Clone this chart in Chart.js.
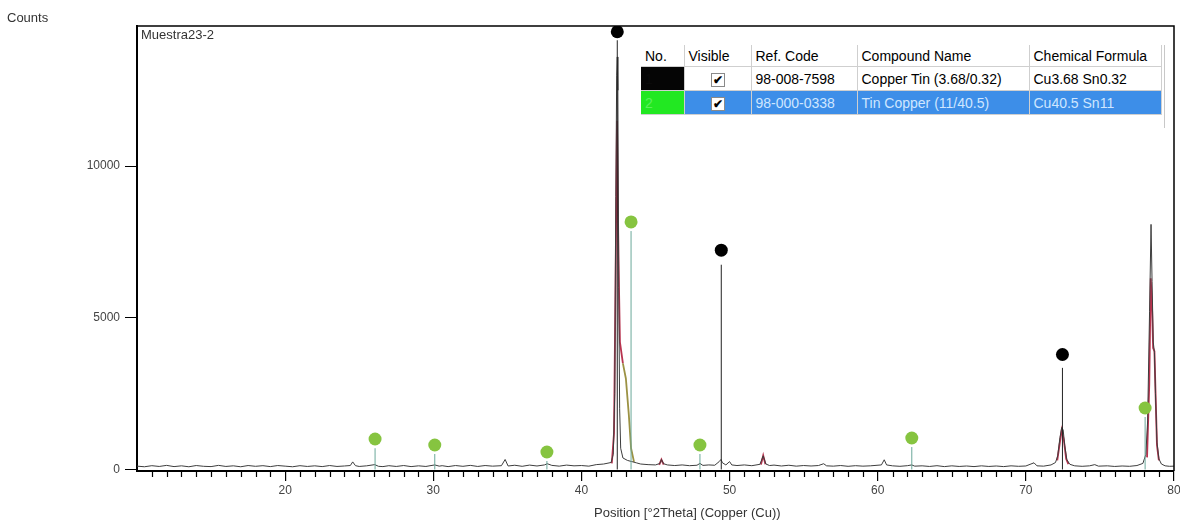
<!DOCTYPE html>
<html>
<head>
<meta charset="utf-8">
<script src="https://cdn.jsdelivr.net/npm/chart.js@4.4.1/dist/chart.umd.min.js"></script>
<style>
  body { margin: 0; background: #fff; overflow: hidden; font-family: "Liberation Sans", Arial, sans-serif; }
  #wrap { position: relative; width: 1180px; height: 527px; overflow: hidden; }
  #panel { position: absolute; left: 641px; top: 45px; width: 523px; height: 83px;
           border-right: 1px solid #c8c8c8; background: #fff; }
  #phases { position: absolute; left: 641px; top: 45px; border-collapse: collapse;
            font-size: 14px; color: #000; table-layout: fixed; }
  #phases td { padding: 0 0 0 4px; white-space: nowrap; overflow: hidden;
               border-right: 1px solid #cfcfcf; border-bottom: 1px solid #cfcfcf; }
  #phases tr.head td { height: 21px; }
  #phases tr.row td { height: 23px; }
  #phases tr.sel td { background: #3d8ee8; color: #cfe6ff; }
  #phases tr td.swatch { color: #0a0a0a; }
  #phases tr.sel td.swatch { color: #5cf05c; }
  #phases td.vis { text-align: center; padding: 0; }
  .box { display: inline-block; width: 12px; height: 12px; border: 1px solid #8a8a8a; background: #fff;
         font-size: 12px; font-weight: bold; line-height: 12px; color: #000; text-align: center; vertical-align: middle; }
</style>
</head>
<body>
<div id="wrap">
  <canvas id="xrd" width="1190" height="527"></canvas>
  <div id="panel"></div>
  <table id="phases"></table>
</div>
<script>
// axis ticks
const xTicks = [20, 30, 40, 50, 60, 70, 80];
const yTicks = [0, 5000, 10000];

// measured scan: position [°2Theta] and counts
const scanPos = [
  10.0, 10.5, 11.0, 11.5, 12.0, 12.5, 13.0, 13.5, 14.0, 14.5, 15.0, 15.5, 16.0, 16.5, 17.0, 17.5,
  18.0, 18.5, 19.0, 19.5, 20.0, 20.5, 21.0, 21.5, 22.0, 22.5, 23.0, 23.5, 24.0, 24.4, 24.56, 24.75,
  25.0, 25.5, 26.05, 26.3, 26.6, 27.0, 27.5, 28.0, 28.5, 29.0, 29.5, 30.1, 30.4, 30.6, 31.0, 31.5,
  32.0, 32.5, 33.0, 33.5, 34.0, 34.6, 34.85, 35.05, 35.5, 36.0, 36.5, 37.0, 37.5, 37.7, 38.0, 38.5,
  39.0, 39.5, 40.0, 40.5, 41.0, 41.5, 42.0, 42.15, 42.25, 42.32, 42.38, 42.42, 42.46, 42.52, 42.58, 42.65,
  42.8, 43.1, 43.4, 43.7, 44.0, 44.5, 45.0, 45.3, 45.4, 45.55, 45.8, 46.3, 46.8, 47.3, 47.8, 48.0,
  48.2, 48.6, 49.0, 49.3, 49.42, 49.52, 49.75, 50.0, 50.15, 50.5, 51.0, 51.5, 52.05, 52.27, 52.45, 52.7,
  53.0, 53.5, 54.0, 54.5, 55.0, 55.5, 56.0, 56.35, 56.55, 57.0, 57.5, 58.0, 58.5, 59.0, 59.5, 60.25,
  60.44, 60.6, 61.0, 61.5, 62.0, 62.3, 62.5, 63.0, 63.5, 64.0, 64.5, 65.0, 65.5, 66.0, 66.5, 67.0,
  67.5, 68.0, 68.5, 69.0, 69.5, 70.0, 70.55, 70.75, 71.2, 71.7, 72.0, 72.15, 72.3, 72.42, 72.52, 72.62,
  72.77, 72.97, 73.3, 73.8, 74.3, 74.65, 74.9, 75.5, 76.0, 76.5, 77.0, 77.5, 77.9, 78.1, 78.22, 78.35,
  78.45, 78.52, 78.6, 78.68, 78.75, 78.85, 78.98, 79.15, 79.4, 79.7, 80.0
];
const scanCounts = [
  110, 90, 125, 100, 135, 95, 120, 90, 130, 105, 95, 135, 100, 120, 90, 130,
  105, 125, 95, 130, 110, 90, 125, 100, 120, 95, 130, 100, 115, 130, 250, 125,
  100, 120, 160, 105, 95, 125, 100, 130, 95, 120, 100, 150, 110, 125, 95, 130,
  105, 135, 100, 130, 110, 125, 330, 115, 140, 105, 145, 115, 150, 190, 135, 110,
  145, 120, 130, 110, 160, 180, 230, 500, 2500, 9000, 13000, 13600, 12500, 6000, 2000, 700,
  380, 300, 260, 220, 180, 160, 150, 200, 330, 190, 150, 130, 150, 125, 140, 200,
  135, 150, 140, 260, 330, 220, 150, 260, 150, 130, 150, 125, 170, 450, 180, 130,
  145, 115, 140, 110, 130, 115, 130, 190, 120, 110, 130, 105, 125, 110, 120, 150,
  320, 150, 120, 105, 125, 150, 110, 120, 100, 125, 95, 120, 100, 115, 95, 120,
  100, 115, 95, 120, 105, 115, 220, 120, 110, 150, 230, 450, 1050, 1380, 1300, 800,
  320, 170, 120, 105, 120, 160, 110, 120, 100, 115, 105, 130, 200, 500, 1600, 5200,
  8080, 6200, 4200, 3850, 2500, 900, 350, 180, 120, 105, 110
];

// fitted profile around the peaks (null breaks the line)
const profilePos = [
  42.05, 42.2, 42.3, 42.4, 42.5, 42.6, 42.8, 43.0, 43.2, 43.35, 43.55, 43.7,
  45.25, 45.4, 45.55, 45.6,
  52.12, 52.27, 52.42, 52.5,
  72.12, 72.27, 72.42, 72.57, 72.72, 72.87, 72.95,
  78.18, 78.33, 78.43, 78.51, 78.59, 78.68, 78.75, 78.85, 78.98
];
const profileCounts = [
  200, 1200, 6000, 11500, 7000, 4200, 3500, 3000, 1800, 700, 250, null,
  150, 330, 160, null,
  160, 460, 170, null,
  300, 800, 1300, 950, 350, 180, null,
  400, 2800, 6300, 5500, 4000, 3900, 2600, 800, 300
];

// reference patterns
const copperTinPos = [42.42, 49.44, 72.47];
const copperTinStick = [14150, 6750, 3350];
const copperTinMark = [14430, 7230, 3790];

const tinCopperPos = [26.07, 30.1, 37.67, 43.35, 48.0, 62.3, 78.05];
const tinCopperStick = [700, 510, 280, 7860, 510, 740, 1730];
const tinCopperMark = [1005, 807, 576, 8160, 807, 1038, 2027];

// phase table
const phaseNo = ['1', '2'];
const phaseColors = ['#050505', '#22e822'];
const refCodes = ['98-008-7598', '98-000-0338'];
const compoundNames = ['Copper Tin (3.68/0.32)', 'Tin Copper (11/40.5)'];
const formulas = ['Cu3.68 Sn0.32', 'Cu40.5 Sn11'];
const tableHead = ['No.', 'Visible', 'Ref. Code', 'Compound Name', 'Chemical Formula'];
const colWidths = [43, 67, 106, 172, 132];

function points(xs, ys) {
  return xs.map((x, i) => ({ x, y: ys[i] }));
}
function sticks(xs, hs) {
  const out = [];
  xs.forEach((x, i) => {
    out.push({ x, y: 0 }, { x, y: hs[i] }, { x, y: null });
  });
  return out;
}

const table = document.getElementById('phases');
let html = '<colgroup>' + colWidths.map(w => `<col style="width:${w}px">`).join('') + '</colgroup>';
html += '<tr class="head">' + tableHead.map(h => `<td>${h}</td>`).join('') + '</tr>';
phaseNo.forEach((n, i) => {
  html += `<tr class="row${i === 1 ? ' sel' : ''}">` +
    `<td class="swatch" style="background:${phaseColors[i]}">${n}</td>` +
    `<td class="vis"><span class="box">&#10004;</span></td>` +
    `<td>${refCodes[i]}</td><td>${compoundNames[i]}</td><td>${formulas[i]}</td></tr>`;
});
table.innerHTML = html;

const decorations = {
  id: 'decorations',
  afterDraw(chart) {
    const { ctx, chartArea: a, scales: { x } } = chart;
    ctx.save();
    ctx.strokeStyle = '#000';
    ctx.lineWidth = 1.5;
    ctx.beginPath();
    ctx.moveTo(a.left, a.top);
    ctx.lineTo(a.right, a.top);
    ctx.lineTo(a.right, a.bottom);
    ctx.stroke();

    // minor ticks every degree
    ctx.lineWidth = 1.2;
    ctx.beginPath();
    for (let v = 11; v < 80; v++) {
      if (v % 10 === 0) continue;
      const px = Math.round(x.getPixelForValue(v)) + 0.5;
      ctx.moveTo(px, a.bottom);
      ctx.lineTo(px, a.bottom + 6);
    }
    ctx.stroke();

    ctx.fillStyle = '#333';
    ctx.font = '13px "Liberation Sans", Arial, sans-serif';
    ctx.textBaseline = 'middle';
    ctx.textAlign = 'left';
    ctx.fillText('Counts', 7, 18);
    ctx.fillText('Muestra23-2', a.left + 4, a.top + 9);
    ctx.fillText('Position [°2Theta] (Copper (Cu))', 594, 513);
    ctx.restore();
  }
};

const tickFont = { family: '"Liberation Sans", Arial, sans-serif', size: 12 };

new Chart(document.getElementById('xrd'), {
  type: 'line',
  data: {
    datasets: [
      {
        data: points(copperTinPos, copperTinMark),
        showLine: false, pointRadius: 6.5, pointBackgroundColor: '#000',
        pointBorderWidth: 0, order: 0
      },
      {
        data: points(tinCopperPos, tinCopperMark),
        showLine: false, pointRadius: 6.5, pointBackgroundColor: '#86c440',
        pointBorderWidth: 0, order: 0
      },
      {
        data: sticks(copperTinPos, copperTinStick),
        borderColor: '#222', borderWidth: 1, pointRadius: 0, order: 1
      },
      {
        data: sticks(tinCopperPos, tinCopperStick),
        borderColor: '#6aa89a', borderWidth: 1, pointRadius: 0, order: 1
      },
      {
        data: points(scanPos, scanCounts),
        borderColor: '#3d3d3d', borderWidth: 1, pointRadius: 0, order: 2
      },
      {
        data: points(profilePos, profileCounts),
        borderColor: '#b8334f', borderWidth: 1.8, pointRadius: 0, order: 3,
        segment: {
          borderColor: c => (c.p0.parsed.x >= 42.7 && c.p1.parsed.x <= 43.7 ? '#9c9244' : undefined)
        }
      }
    ]
  },
  options: {
    responsive: false,
    animation: false,
    layout: { padding: { left: 0, top: 26, right: 16, bottom: 0 } },
    plugins: { legend: { display: false }, tooltip: { enabled: false } },
    scales: {
      x: {
        type: 'linear', min: 10, max: 80,
        afterBuildTicks: s => { s.ticks = xTicks.map(value => ({ value })); },
        ticks: {
          maxRotation: 0, autoSkip: false,
          callback: v => String(v),
          font: tickFont, color: '#444', padding: 2
        },
        grid: { drawOnChartArea: false, tickLength: 10, color: '#000', lineWidth: 1.2 },
        border: { display: true, color: '#000', width: 2 },
        afterFit: s => { s.height = 56; }
      },
      y: {
        min: -50, max: 14620,
        afterBuildTicks: s => { s.ticks = yTicks.map(value => ({ value })); },
        ticks: { callback: v => String(v), font: tickFont, color: '#444', padding: 5 },
        grid: { drawOnChartArea: false, tickLength: 12, color: '#000', lineWidth: 1 },
        border: { display: true, color: '#000', width: 2 },
        afterFit: s => { s.width = 137; }
      }
    }
  },
  plugins: [decorations]
});
</script>
</body>
</html>
